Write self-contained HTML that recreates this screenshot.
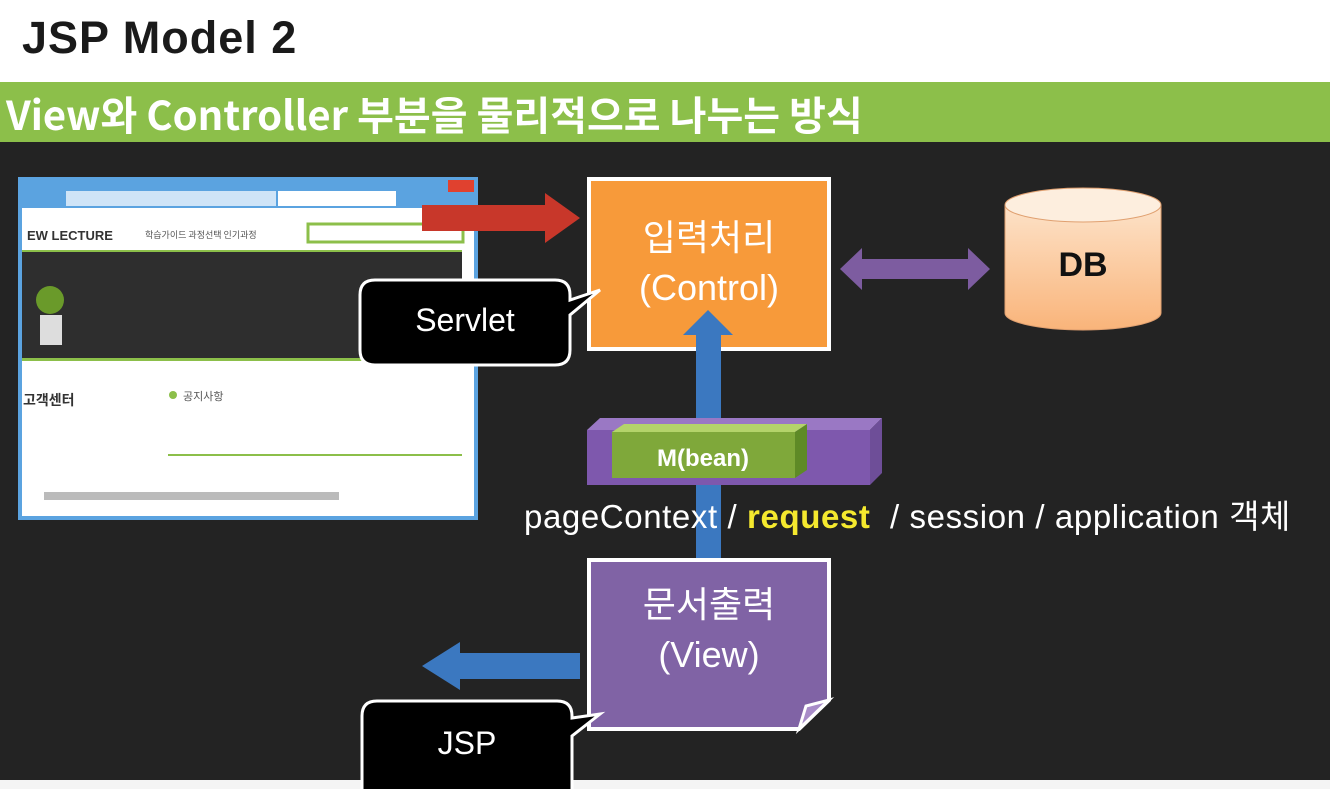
<!DOCTYPE html>
<html><head><meta charset="utf-8"><style>
body{margin:0;width:1330px;height:789px;overflow:hidden;background:#232323;position:relative;font-family:"Liberation Sans","Noto Sans CJK KR",sans-serif}
.a{position:absolute}
</style></head><body>
<div class="a" style="left:0;top:0;width:1330px;height:82px;background:#fff"></div>
<div class="a" style="left:22px;top:12px;font-size:45px;font-weight:bold;color:#1a1a1a;letter-spacing:1px">JSP Model 2</div>
<div class="a" style="left:0;top:82px;width:1330px;height:60px;background:#8cbf4a"></div>
<div class="a" style="left:6px;top:84px;font-size:40px;font-weight:bold;color:#fff;white-space:nowrap;font-family:'Noto Sans CJK KR','Liberation Sans',sans-serif">View와 Controller 부분을 물리적으로 나누는 방식</div>
<div class="a" style="left:0;top:780px;width:1330px;height:9px;background:#f4f4f4"></div>

<svg class="a" style="left:0;top:0" width="1330" height="789">
<rect x="18" y="177" width="460" height="343" fill="#5ba3e0"/>
<rect x="22" y="208" width="452" height="308" fill="#fff"/>
<rect x="66" y="191" width="210" height="15" fill="#cfe4f7"/>
<rect x="278" y="191" width="118" height="15" fill="#fff"/>
<rect x="448" y="180" width="26" height="12" fill="#e0412f"/>
<rect x="22" y="250" width="440" height="2" fill="#8cbf4a"/>
<rect x="22" y="252" width="440" height="106" fill="#2e2e2e"/>
<circle cx="50" cy="300" r="14" fill="#6a9a2a"/>
<rect x="40" y="315" width="22" height="30" fill="#ddd"/>
<rect x="22" y="358" width="440" height="3" fill="#8cbf4a"/>
<text x="27" y="240" font-size="13" font-weight="bold" fill="#333">EW LECTURE</text>
<text x="145" y="238" font-size="9" fill="#555" font-family="Noto Sans CJK KR">학습가이드  과정선택  인기과정</text>
<rect x="308" y="224" width="155" height="18" fill="none" stroke="#8cbf4a" stroke-width="3"/>
<text x="23" y="405" font-size="14" font-weight="bold" fill="#333" font-family="Noto Sans CJK KR">고객센터</text>
<circle cx="173" cy="395" r="4" fill="#8cbf4a"/>
<text x="183" y="400" font-size="11" fill="#555" font-family="Noto Sans CJK KR">공지사항</text>
<rect x="168" y="454" width="294" height="2" fill="#8cbf4a"/>
<rect x="44" y="492" width="295" height="8" fill="#bbb"/>
<polygon points="422,205 545,205 545,193 580,218 545,243 545,231 422,231" fill="#c8372a"/>
<rect x="589" y="179" width="240" height="170" fill="#f79a3a" stroke="#fff" stroke-width="4"/>
<polygon points="840,269 862,248 862,259 968,259 968,248 990,269 968,290 968,279 862,279 862,290" fill="#7d5ca0"/>
<defs><linearGradient id="g" x1="0" y1="0" x2="0" y2="1"><stop offset="0" stop-color="#fde2c8"/><stop offset="1" stop-color="#f9b47a"/></linearGradient></defs>
<path d="M1005,205 v108 a78,17 0 0 0 156,0 v-108" fill="url(#g)" stroke="#e0a070"/>
<ellipse cx="1083" cy="205" rx="78" ry="17" fill="#fdeede" stroke="#e0a070"/>
<polygon points="683,335 708,310 733,335 721,335 721,560 733,560 708,586 683,560 696,560 696,335" fill="#3b78c0"/>
<polygon points="600,418 882,418 870,430 587,430" fill="#9a78c4"/>
<polygon points="870,430 882,418 882,473 870,485" fill="#6e4e98"/>
<rect x="587" y="430" width="283" height="55" fill="#7e58ad"/>
<polygon points="612,432 624,424 807,424 795,432" fill="#b4d46a"/>
<polygon points="795,432 807,424 807,470 795,478" fill="#5e8a26"/>
<rect x="612" y="432" width="183" height="46" fill="#7fa83a"/>
<text x="703" y="466" text-anchor="middle" font-size="24" font-weight="bold" fill="#fff">M(bean)</text>
<polygon points="580,653 460,653 460,642 422,666 460,690 460,679 580,679" fill="#3b78c0"/>
<polygon points="589,560 829,560 829,700 799,729 589,729" fill="#8063a5" stroke="#fff" stroke-width="4"/>
<polygon points="799,729 806,706 829,700" fill="#a88cc8" stroke="#fff" stroke-width="3"/>
<path d="M375,280 h180 q15,0 15,15 l0,5 l30,-10 l-30,25 v35 q0,15 -15,15 h-180 q-15,0 -15,-15 v-55 q0,-15 15,-15z" fill="#000" stroke="#fff" stroke-width="3"/>
<path d="M377,701 h180 q15,0 15,15 l0,2 l28,-4 l-28,22 v60 h-210 v-80 q0,-15 15,-15z" fill="#000" stroke="#fff" stroke-width="3"/>
</svg>

<div class="a" style="left:589px;top:213px;width:240px;text-align:center;color:#fff;font-size:36px;line-height:50px;font-family:'Liberation Sans','Noto Sans CJK KR',sans-serif">입력처리<br>(Control)</div>
<div class="a" style="left:589px;top:580px;width:240px;text-align:center;color:#fff;font-size:36px;line-height:50px;font-family:'Liberation Sans','Noto Sans CJK KR',sans-serif">문서출력<br>(View)</div>
<div class="a" style="left:1005px;top:246px;width:156px;text-align:center;font-size:34px;font-weight:bold;color:#111">DB</div>
<div class="a" style="left:360px;top:302px;width:210px;text-align:center;font-size:32px;color:#fff">Servlet</div>
<div class="a" style="left:362px;top:725px;width:210px;text-align:center;font-size:32px;color:#fff">JSP</div>
<div class="a" style="left:524px;top:490px;font-size:33px;letter-spacing:0.6px;color:#fff;white-space:nowrap;font-family:'Liberation Sans','Noto Sans CJK KR',sans-serif">pageContext / <b style="color:#f5e92e">request</b> &nbsp;/ session / application 객체</div>
</body></html>
